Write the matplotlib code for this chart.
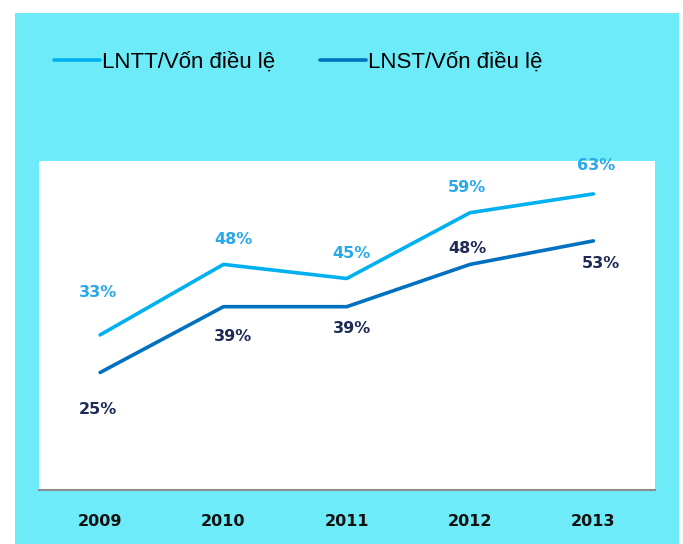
import matplotlib.pyplot as plt
from matplotlib.patches import Rectangle

years = ['2009', '2010', '2011', '2012', '2013']
lntt = [33, 48, 45, 59, 63]   # LNTT/Vốn điều lệ (%)
lnst = [25, 39, 39, 48, 53]   # LNST/Vốn điều lệ (%)

# label offsets in pixels (dx, dy)
lntt_offsets = [(-2, 42), (10, 25), (5, 25), (-3, 25), (3, 28)]
lnst_offsets = [(-2, -37), (10, -30), (5, -22), (-3, 16), (8, -23)]

c_bg = '#6DEBF8'
c_lntt = '#00B0F0'
c_lnst = '#0070C0'
c_lnst_lbl = '#1F2B55'
c_lntt_lbl = '#29A8EA'

W, H = 683, 544
fig = plt.figure(figsize=(W / 100, H / 100), dpi=100)
fig.patch.set_facecolor('white')
fig.add_artist(Rectangle((15 / W, 0), (679 - 15) / W, 1 - 13 / H,
                         transform=fig.transFigure, facecolor=c_bg,
                         edgecolor='none', zorder=0))

ax = fig.add_axes([38.5 / W, 1 - 490 / H, (655 - 38.5) / W, (490 - 161) / H])
ax.set_facecolor('white')
x = list(range(len(years)))

l1, = ax.plot(x, lntt, color=c_lntt, lw=2.6, solid_capstyle='round',
              label='LNTT/Vốn điều lệ')
l2, = ax.plot(x, lnst, color=c_lnst, lw=2.6, solid_capstyle='round',
              label='LNST/Vốn điều lệ')

for i, v in enumerate(lntt):
    ax.annotate(f'{v}%', (i, v), xytext=lntt_offsets[i], textcoords='offset pixels',
                ha='center', va='center', fontsize=11.5, fontweight='bold',
                color=c_lntt_lbl, family='DejaVu Sans')
for i, v in enumerate(lnst):
    ax.annotate(f'{v}%', (i, v), xytext=lnst_offsets[i], textcoords='offset pixels',
                ha='center', va='center', fontsize=11.5, fontweight='bold',
                color=c_lnst_lbl, family='DejaVu Sans')

ax.set_xlim(-0.5, 4.5)
ax.set_ylim(0, 70)
ax.set_yticks([])
ax.set_xticks(x)
ax.set_xticklabels(years, fontsize=11.5, fontweight='bold', color='#111111')
ax.tick_params(axis='x', length=0, pad=17)
for s in ['left', 'right', 'top']:
    ax.spines[s].set_visible(False)
ax.spines['bottom'].set_color('#8C8C8C')
ax.spines['bottom'].set_linewidth(1.5)

fig.legend(handles=[l1, l2], loc='center left',
           bbox_to_anchor=(54 / W, 1 - 62 / H), ncol=2, frameon=False,
           handlelength=2.05, handletextpad=0.1, columnspacing=2.05,
           borderpad=0, borderaxespad=0,
           prop={'family': 'Liberation Sans', 'size': 16})

fig.savefig('out.png', dpi=100)
